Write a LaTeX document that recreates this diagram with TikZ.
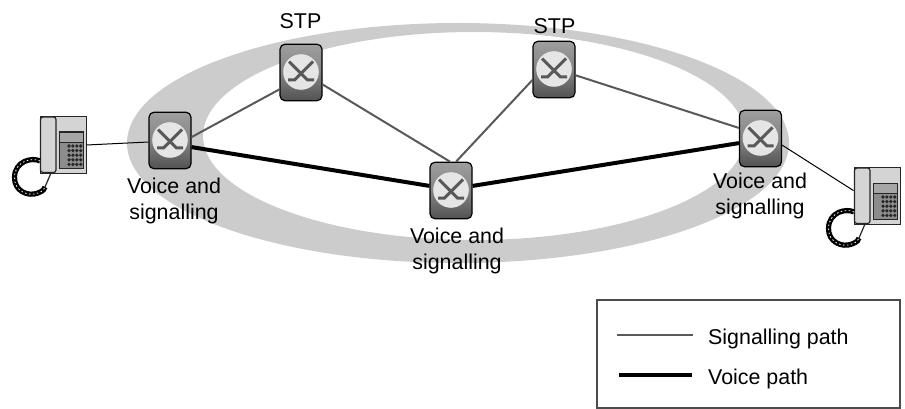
\documentclass[tikz,border=0pt]{standalone}
\usepackage{fontspec}
\setmainfont{Liberation Sans}
\usetikzlibrary{calc}
\tikzset{
  switchbox/.style={draw=black,line width=1.2pt,rounded corners=5pt,minimum width=42pt,minimum height=56.5pt,inner sep=0pt,
    top color=black!38,bottom color=black!68,middle color=black!48},
  sig/.style={draw=black!65,line width=2pt},
  voice/.style={draw=black,line width=4pt},
  lab/.style={font=\fontsize{21.4}{26}\selectfont,align=center,inner sep=0pt},
  phonebody/.style={draw=black!85,fill=black!17,line width=1pt,minimum width=46pt,minimum height=56pt,inner sep=0pt},
  thinlink/.style={draw=black,line width=1pt}
}
\newcommand{\myswitch}[3]{%
  \node[switchbox] (#1) at (#2,#3) {};
  \fill[black!10] (#1.center) ++(0,-0.5) circle[radius=17.8pt];
  \begin{scope}[shift={(#1.center)}]
    \draw[black!65,line width=3pt] (-12,-11) -- (6.5,7.5) -- (13,7.5);
    \draw[black!65,line width=3pt] (12,-11) -- (-6.5,7.5) -- (-13,7.5);
  \end{scope}}
\newcommand{\myphone}[3]{%
  \node[phonebody] (#1) at (#2+23,#3+28) {};
  \begin{scope}[shift={(#2,#3)}]
    \draw[black!85,fill=black!17,line width=1.2pt,rounded corners=2.5pt] (0.5,0) -- (16,0) -- (16,55.5) -- (0.5,55.5) -- cycle;
    \draw[black!85,fill=black!45,line width=1pt] (19.5,15) rectangle (43,51.5);
    \draw[black!85,fill=black!35,line width=0.6pt] (19.5,15) rectangle (43,25);
    \foreach \i in {0,1,2,3}\foreach \j in {0,1,2,3,4}
      \fill[black!85] (29+\i*3.9,29+\j*4.6) circle[radius=1.8pt];
    \draw[black,line width=5.2pt] (0,44) .. controls (-8,40) and (-25,44) .. (-25.5,60) .. controls (-26,74) and (-12,80) .. (-2,76) .. controls (3,74) and (5,72) .. (5,70);
    \draw[white,line width=0.8pt,dash pattern=on 1.5pt off 2.5pt] (0,44) .. controls (-8,40) and (-25,44) .. (-25.5,60) .. controls (-26,74) and (-12,80) .. (-2,76) .. controls (3,74) and (5,72) .. (5,70);
    \draw[black!85,line width=1.2pt] (5,70) -- (11,56);
  \end{scope}}
\begin{document}
\begin{tikzpicture}[x=1pt,y=-1pt]
\useasboundingbox (0,0) rectangle (905,409);
% ring
\fill[black!20,even odd rule] (458,143) ellipse[x radius=331,y radius=120]
  (474,136) ellipse[x radius=271,y radius=104];
% nodes
\myswitch{a}{170}{140.5}
\myswitch{sa}{301}{72.5}
\myswitch{sb}{554}{69.5}
\myswitch{c}{451}{190.5}
\myswitch{r}{760.5}{138.5}
\myphone{pl}{40}{117}
\myphone{pr}{854}{168}
% connectors
\draw[sig] (a.9) -- (sa.218);
\draw[sig] (sa.-29) -- (c.92);
\draw[sig] (sb.206) -- (c.80);
\draw[sig] (sb.-15) -- (r.154);
\draw[voice] (a.-17) -- (c.168);
\draw[voice] (c.12) -- (r.192);
\draw[thinlink] (pl.east) -- (a.184);
\draw[thinlink] (r.-17) -- (pr.167);
% labels
\node[lab] (ta) at (174,201) {Voice and\\signalling};
\node[lab] (tc) at (457,251) {Voice and\\signalling};
\node[lab] (tr) at (760,196) {Voice and\\signalling};
\node[lab] (tsa) at (300.5,21) {STP};
\node[lab] (tsb) at (554.5,26.5) {STP};
% legend
\node[draw=black!70,line width=1.5pt,minimum width=303pt,minimum height=108pt,inner sep=0pt] (leg) at (748.5,354) {};
\coordinate (l1a) at (617,334.5); \coordinate (l1b) at (693,334.5);
\coordinate (l2a) at (619,375); \coordinate (l2b) at (692,375);
\draw[sig] (l1a) -- (l1b);
\draw[voice] (l2a) -- (l2b);
\node[lab,anchor=west] (t1) at (708,339) {Signalling path};
\node[lab,anchor=west] (t2) at (708,379) {Voice path};
\end{tikzpicture}
\end{document}
